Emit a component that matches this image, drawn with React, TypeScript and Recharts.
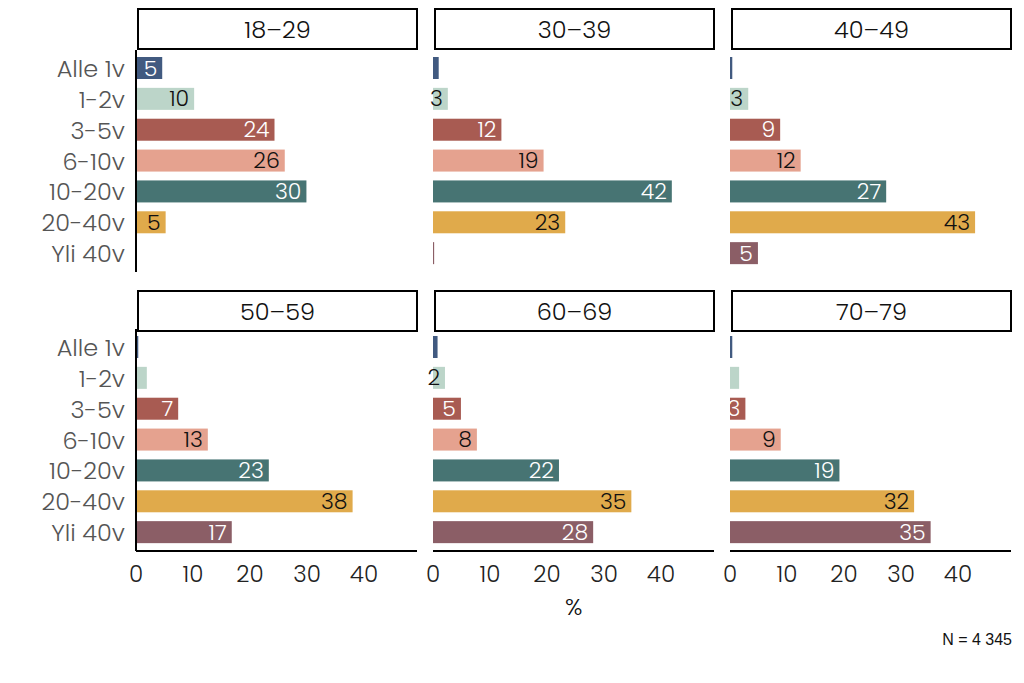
import { BarChart, Bar, XAxis, YAxis } from "recharts";

const categories = ["Alle 1v", "1-2v", "3-5v", "6-10v", "10-20v", "20-40v", "Yli 40v"];
const ageGroups = ["18–29", "30–39", "40–49", "50–59", "60–69", "70–79"];

const share18_29 = [4.6, 10.2, 24.3, 26.1, 29.9, 5.2, 0];
const share30_39 = [1.0, 2.6, 12.0, 19.4, 41.9, 23.2, 0.2];
const share40_49 = [0.4, 3.2, 8.8, 12.4, 27.4, 43.0, 4.9];
const share50_59 = [0.4, 1.9, 7.4, 12.6, 23.3, 38.0, 16.8];
const share60_69 = [0.8, 2.1, 4.9, 7.7, 22.1, 34.8, 28.1];
const share70_79 = [0.4, 1.6, 2.7, 8.9, 19.2, 32.3, 35.2];

const xTicks = [0, 10, 20, 30, 40];
const allShares = [share18_29, share30_39, share40_49, share50_59, share60_69, share70_79];

const barColors = ["#415a80", "#bcd5c9", "#a85b52", "#e5a28f", "#477473", "#e0aa4b", "#8b5e66"];
const labelColors = ["#fff", "#111", "#fff", "#111", "#fff", "#111", "#fff"];

const PLOT_W = 281;
const PLOT_H = 222;
const LEFT_PAD = 20;
const colX = [136, 433, 730];
const rowY = [50, 329];
const headerTop = [8, 290];

const BarWithLabel = (props: any) => {
  const { x, y, width, height, payload } = props;
  const i = categories.indexOf(payload.category);
  const v = payload.value;
  return (
    <g>
      <rect x={x} y={y} width={Math.max(width, 0)} height={height} fill={barColors[i]} />
      {v >= 2 && (
        <text
          x={x + width - 5}
          y={y + height / 2}
          textAnchor="end"
          dominantBaseline="central"
          fontSize={22}
          fill={labelColors[i]}
        >
          {Math.round(v)}
        </text>
      )}
    </g>
  );
};

const Panel = ({ idx }: { idx: number }) => {
  const col = idx % 3;
  const row = Math.floor(idx / 3);
  const showY = col === 0;
  const showX = row === 1;
  const yW = showY ? 136 : 0;
  const leftM = showY ? 0 : LEFT_PAD;
  const data = categories.map((c, i) => ({ category: c, value: allShares[idx][i] }));
  return (
    <>
      <div
        style={{
          position: "absolute",
          left: colX[col] + 1,
          top: headerTop[row],
          width: PLOT_W,
          height: 42,
          border: "2px solid #000",
          boxSizing: "border-box",
          display: "flex",
          alignItems: "center",
          justifyContent: "center",
          fontSize: 24,
          color: "#111",
        }}
      >
        {ageGroups[idx]}
      </div>
      <div style={{ position: "absolute", left: colX[col] - yW - leftM, top: rowY[row] }}>
        <BarChart
          width={yW + leftM + PLOT_W}
          height={PLOT_H + (showX ? 50 : 0)}
          data={data}
          layout="vertical"
          margin={{ top: 0, right: 0, bottom: 0, left: leftM }}
          barSize={22}
        >
          <XAxis
            type="number"
            domain={[0, 49.3]}
            ticks={xTicks}
            hide={!showX}
            axisLine={{ stroke: "#000", strokeWidth: 2 }}
            tickLine={false}
            tickSize={0}
            tickMargin={15}
            tick={{ fontSize: 23, fill: "#222" }}
            height={50}
          />
          <YAxis
            type="category"
            dataKey="category"
            hide={!showY}
            width={yW}
            padding={{ top: 3, bottom: 3 }}
            axisLine={{ stroke: "#000", strokeWidth: 2 }}
            tickLine={false}
            tickSize={0}
            tickMargin={11}
            tick={{ fontSize: 24, fill: "#555" }}
            interval={0}
          />
          <Bar dataKey="value" isAnimationActive={false} shape={BarWithLabel} />
        </BarChart>
      </div>
    </>
  );
};

export default function App() {
  return (
    <div
      style={{
        position: "absolute",
        left: 0,
        top: 0,
        width: 1024,
        height: 683,
        background: "#fff",
        fontFamily: "Poppins, Inter, sans-serif",
        fontWeight: 300,
      }}
    >
      {ageGroups.map((_, i) => (
        <Panel key={i} idx={i} />
      ))}
      <div style={{ position: "absolute", left: 565, top: 589, fontSize: 24, color: "#111" }}>%</div>
      <div
        style={{
          position: "absolute",
          right: 12,
          top: 631,
          fontSize: 16,
          color: "#111",
          fontFamily: "'Liberation Sans', Arial, sans-serif",
          fontWeight: 400,
        }}
      >
        N = 4 345
      </div>
    </div>
  );
}
